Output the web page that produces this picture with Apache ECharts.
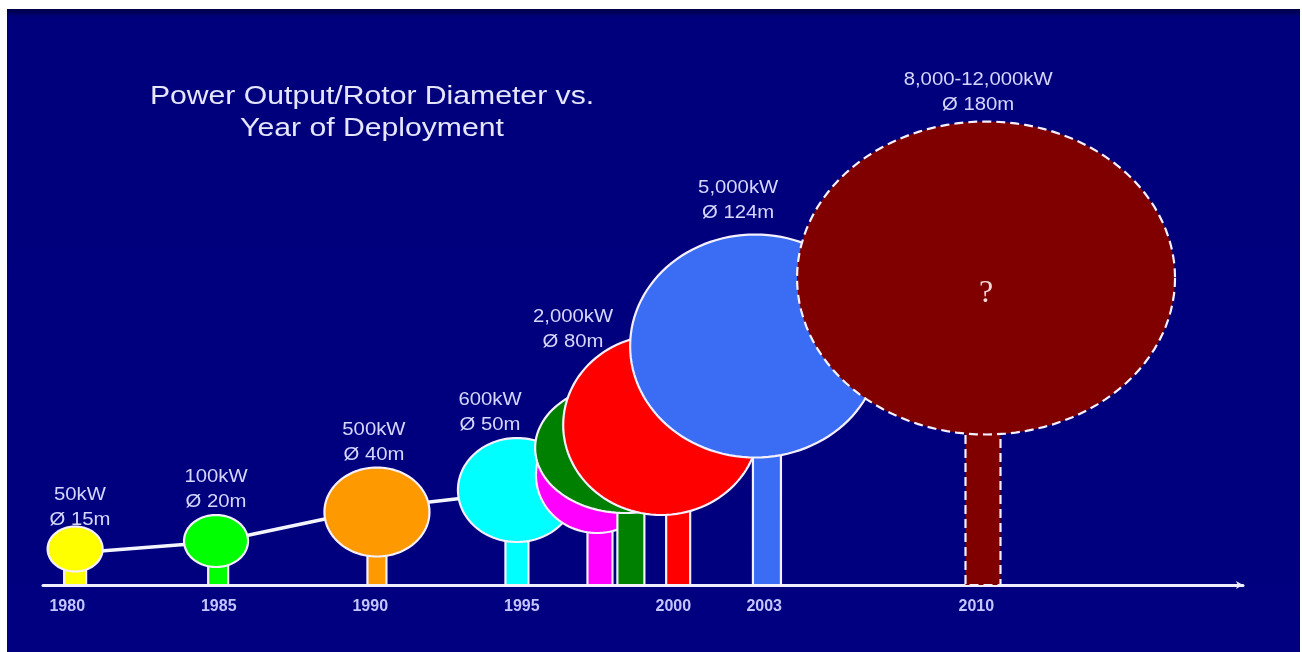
<!DOCTYPE html>
<html><head><meta charset="utf-8">
<script src="https://cdn.jsdelivr.net/npm/echarts@6/dist/echarts.min.js"></script>
<style>html,body{margin:0;padding:0;background:#fff}#c{width:1302px;height:652px}</style>
</head><body><div id="c"></div>
<script>
// ---- data (x: year, y: height in m-like units) ----
const tickYears = [1980, 1985, 1990, 1995, 2000, 2003, 2010];
const treeYear = [1980.26, 1984.98, 1990.22, 1994.84, 1997.58, 1998.6, 2000.16, 2003.09, 2010.22];
const crownYear = [1980.26, 1984.91, 1990.22, 1994.84, 1997.48, 1998.41, 1999.6, 2002.70, 2010.32];
const crownHeight = [18, 22, 36.5, 47.5, 55, 68.5, 80, 119.5, 153.5];
const crownWidth = [27.5, 32, 52.5, 59, 61, 90, 98, 125, 189];
const crownTall = [22.5, 26, 44.5, 52, 58, 65, 90, 111.5, 156.5];
const trunkWidth = [11, 10, 9.5, 11.5, 12.5, 13.5, 12, 14, 17.5];
const powerText = ['50kW', '100kW', '500kW', '600kW', '', '', '2,000kW', '5,000kW', '8,000-12,000kW'];
const diameterText = ['Ø 15m', 'Ø 20m', 'Ø 40m', 'Ø 50m', '', '', 'Ø 80m', 'Ø 124m', 'Ø 180m'];
const labelYear = [1980.42, 1984.91, 1990.12, 1993.95, 0, 0, 1996.69, 2002.14, 2010.06];
const labelHeight = [38.75, 47.75, 71.25, 86.25, 0, 0, 127.75, 192.25, 246.25];
const noteText = ['', '', '', '', '', '', '', '', '?'];
const trendYear = [1980.26, 1984.91, 1990.22, 1994.84];
const trendHeight = [16, 21.5, 38.5, 46.5];
const titleLines = ['Power Output/Rotor Diameter vs.', 'Year of Deployment'];

// ---- styles ----
const treeColors = ['#ffff00', '#00ff00', '#ff9900', '#00ffff', '#ff00ff', '#008000', '#ff0000', '#3a6cf4', '#800000'];
const treeDashed = [false, false, false, false, false, false, false, false, true];
const textColor = '#d6d6ff';
const SX = 1.16;

function ellipsePoints(cx, cy, rx, ry) {
  const pts = [];
  for (let k = 0; k < 120; k++) {
    const a = k / 120 * Math.PI * 2;
    pts.push([cx + rx * Math.cos(a), cy + ry * Math.sin(a)]);
  }
  return pts;
}

const chart = echarts.init(document.getElementById('c'));
const treeData = treeYear.map((y, i) => [y, crownHeight[i], i]);

chart.setOption({
  animation: false,
  backgroundColor: '#ffffff',
  graphic: [
    { type: 'rect', z: -10, silent: true, shape: { x: 7, y: 9, width: 1293, height: 643 },
      style: { fill: new echarts.graphic.LinearGradient(0, 0, 0, 1, [
        { offset: 0, color: '#000046' }, { offset: 0.013, color: '#00007c' }, { offset: 1, color: '#000080' }]) } },
    { type: 'text', z: 10, x: 372, y: 97, scaleX: SX,
      style: { text: titleLines[0], fontFamily: 'Liberation Sans, Arial', fontSize: 26, fill: '#e6e6ff', align: 'center', verticalAlign: 'middle' } },
    { type: 'text', z: 10, x: 372, y: 129, scaleX: SX,
      style: { text: titleLines[1], fontFamily: 'Liberation Sans, Arial', fontSize: 26, fill: '#e6e6ff', align: 'center', verticalAlign: 'middle' } }
  ],
  grid: { left: 43, right: 59, top: 9, bottom: 67 },
  xAxis: {
    type: 'value', min: 1979.2, max: 2018.8,
    splitLine: { show: false }, axisTick: { show: false },
    axisLine: { show: true, symbol: ['none', 'arrow'], symbolSize: [6, 7], lineStyle: { color: '#eeeeff', width: 3 } },
    axisLabel: { customValues: tickYears, formatter: v => String(v), color: '#c4c4ff', fontSize: 16, fontWeight: 'bold',
      fontFamily: 'Liberation Sans, Arial', margin: 14 }
  },
  yAxis: { type: 'value', min: 0, max: 288, show: false },
  series: [
    {
      type: 'line', z: 1, data: trendYear.map((y, i) => [y, trendHeight[i]]),
      symbol: 'none', lineStyle: { color: '#f4f4ff', width: 3.5 }, silent: true
    },
    {
      type: 'custom', z: 3, data: treeData, encode: { x: 0, y: 1 }, silent: true,
      renderItem: function (params, api) {
        const i = api.value(2);
        const base = api.coord([treeYear[i], 0]);
        const top = api.coord([treeYear[i], crownHeight[i]]);
        const tw = api.size([0, trunkWidth[i]])[1];
        const cc = api.coord([crownYear[i], crownHeight[i]]);
        const rx = api.size([0, crownWidth[i]])[1] / 2;
        const ry = api.size([0, crownTall[i]])[1] / 2;
        const dash = treeDashed[i] ? [9, 5] : null;
        const children = [
          { type: 'rect', shape: { x: base[0] - tw / 2, y: top[1], width: tw, height: base[1] - top[1] },
            style: { fill: treeColors[i], stroke: '#f4f0ff', lineWidth: 2.2, lineDash: dash } },
          { type: 'polygon', shape: { points: ellipsePoints(cc[0], cc[1], rx, ry) },
            style: { fill: treeColors[i], stroke: '#f4f0ff', lineWidth: 2.2, lineDash: dash } }
        ];
        if (noteText[i]) {
          children.push({ type: 'text', x: cc[0], y: cc[1] + 16,
            style: { text: noteText[i], fontFamily: 'Liberation Serif, Times New Roman', fontSize: 32, fill: '#f2d6d6', align: 'center', verticalAlign: 'middle' } });
        }
        return { type: 'group', children: children };
      }
    },
    {
      type: 'custom', z: 5, data: treeData, encode: { x: 0, y: 1 }, silent: true,
      renderItem: function (params, api) {
        const i = api.value(2);
        if (!powerText[i]) return { type: 'group', children: [] };
        const p = api.coord([labelYear[i], labelHeight[i]]);
        return { type: 'text', x: p[0], y: p[1], scaleX: SX,
          style: { text: powerText[i] + '\n' + diameterText[i], fontFamily: 'Liberation Sans, Arial', fontSize: 17.5,
            lineHeight: 25, fill: textColor, align: 'center', verticalAlign: 'middle' } };
      }
    }
  ]
});
</script></body></html>
